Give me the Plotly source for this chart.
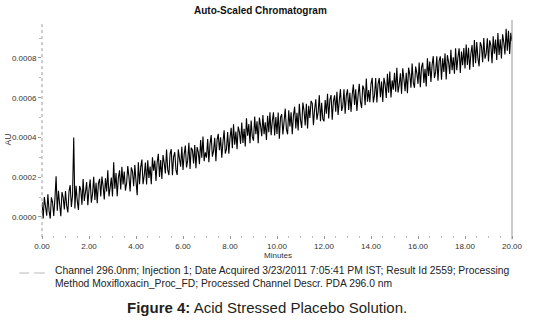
import plotly.graph_objects as go

absorbance_uAU = [
    75, -7, 100, 53, 6, 114, 32, -8, 99, 73,
    5, 91, 205, 32, 132, 65, 4, 125, 99, 38,
    131, 56, 23, 130, 160, 51, 109, 400, 43, 157,
    82, 35, 156, 137, 62, 191, 81, 125, 176, 59,
    138, 189, 72, 116, 202, 86, 172, 69, 169, 192,
    103, 203, 156, 88, 195, 128, 235, 104, 148, 199,
    103, 275, 142, 221, 104, 198, 235, 139, 253, 164,
    229, 133, 170, 256, 202, 128, 249, 230, 155, 262,
    180, 110, 275, 165, 251, 289, 165, 209, 274, 164,
    285, 196, 254, 165, 300, 233, 284, 181, 274, 318,
    201, 287, 191, 312, 272, 219, 340, 237, 211, 318,
    341, 210, 303, 326, 237, 212, 340, 293, 253, 353,
    236, 315, 359, 249, 286, 373, 242, 349, 337, 269,
    362, 245, 352, 326, 265, 387, 298, 405, 281, 325,
    299, 392, 275, 368, 412, 303, 333, 398, 281, 388,
    418, 336, 401, 298, 377, 436, 319, 342, 428, 318,
    398, 449, 346, 467, 364, 430, 341, 455, 429, 368,
    475, 372, 444, 355, 497, 409, 467, 371, 485, 403,
    384, 505, 416, 481, 371, 500, 460, 406, 513, 417,
    477, 388, 509, 427, 527, 411, 483, 527, 410, 503,
    418, 525, 394, 501, 517, 415, 480, 545, 442, 416,
    537, 455, 527, 417, 510, 555, 445, 524, 435, 570,
    488, 448, 576, 536, 461, 569, 445, 559, 498, 584,
    572, 462, 541, 592, 489, 527, 613, 482, 575, 493,
    481, 588, 520, 620, 496, 590, 613, 489, 582, 612,
    530, 630, 513, 585, 643, 534, 557, 643, 519, 612,
    642, 539, 625, 529, 615, 667, 564, 643, 533, 612,
    670, 581, 548, 662, 643, 562, 697, 580, 638, 577,
    670, 700, 576, 613, 699, 576, 669, 699, 603, 682,
    579, 700, 667, 599, 720, 625, 732, 601, 687, 640,
    726, 630, 751, 627, 664, 723, 620, 748, 694, 633,
    726, 623, 751, 718, 650, 772, 676, 650, 757, 724,
    670, 777, 653, 753, 776, 674, 746, 657, 799, 710,
    782, 679, 765, 809, 699, 730, 809, 685, 785, 808,
    691, 798, 730, 823, 692, 814, 781, 720, 841, 738,
    803, 721, 849, 739, 804, 849, 725, 832, 764, 850,
    747, 868, 765, 851, 741, 821, 865, 755, 890, 773,
    880, 798, 758, 879, 860, 779, 900, 797, 820, 899,
    782, 889, 863, 774, 909, 821, 893, 790, 925, 815,
    894, 798, 919, 879, 818, 947, 837, 937, 820, 927,
    885,
]
sample_step_min = 0.05
minutes = [i * sample_step_min for i in range(len(absorbance_uAU))]
absorbance_AU = [v * 1e-6 for v in absorbance_uAU]

x_ticks = [0, 2, 4, 6, 8, 10, 12, 14, 16, 18, 20]
x_tick_labels = ["0.00", "2.00", "4.00", "6.00", "8.00", "10.00",
                 "12.00", "14.00", "16.00", "18.00", "20.00"]
y_ticks = [0.0, 0.0002, 0.0004, 0.0006, 0.0008]
y_tick_labels = ["0.0000", "0.0002", "0.0004", "0.0006", "0.0008"]

title_text = "Auto-Scaled Chromatogram"
x_title = "Minutes"
y_title = "AU"
footer_1 = ("Channel 296.0nm; Injection 1; Date Acquired 3/23/2011 7:05:41 PM IST; "
            "Result Id 2559; Processing")
footer_2 = "Method Moxifloxacin_Proc_FD; Processed Channel Descr. PDA 296.0 nm"
caption_bold = "Figure 4:"
caption_rest = " Acid Stressed Placebo Solution."

W, H = 535, 326
ML, MR, MT, MB = 40, 18, 22, 91
PW, PH = W - ML - MR, H - MT - MB


def px(xp):
    return (xp - ML) / PW


def py(yp):
    return (H - MB - yp) / PH


fig = go.Figure()
fig.add_trace(go.Scatter(
    x=minutes, y=absorbance_AU, mode="lines",
    line=dict(color="#000000", width=1.1, simplify=False),
    hoverinfo="skip", showlegend=False,
))

axis_font = dict(family="Arial, Liberation Sans, sans-serif", size=8, color="#333333")

fig.update_layout(
    width=W, height=H,
    margin=dict(l=ML, r=MR, t=MT, b=MB),
    paper_bgcolor="white", plot_bgcolor="white",
    xaxis=dict(
        range=[0, 20], showgrid=False, zeroline=False, showline=False,
        tickmode="array", tickvals=x_ticks, ticktext=x_tick_labels,
        ticks="outside", ticklen=3, tickcolor="#999999", tickwidth=1,
        minor=dict(dtick=0.5, ticks="outside", ticklen=2, tickcolor="#bbbbbb"),
        tickfont=axis_font,
    ),
    yaxis=dict(
        range=[-0.0000906, 0.000981], showgrid=False, zeroline=False, showline=False,
        tickmode="array", tickvals=y_ticks, ticktext=y_tick_labels,
        ticks="outside", ticklen=3, tickcolor="#999999", tickwidth=1,
        minor=dict(dtick=0.0001, ticks="outside", ticklen=2, tickcolor="#bbbbbb"),
        tickfont=axis_font,
    ),
    shapes=[
        dict(type="line", xref="paper", yref="paper", x0=0, x1=0, y0=-0.01, y1=1,
             line=dict(color="#999999", width=1, dash="dot")),
        dict(type="line", xref="paper", yref="paper", x0=1, x1=1, y0=-0.02, y1=1.01,
             line=dict(color="#999999", width=1)),
        dict(type="line", xref="paper", yref="paper", x0=px(17), x1=px(27),
             y0=py(273), y1=py(273), line=dict(color="#bbbbbb", width=1)),
        dict(type="line", xref="paper", yref="paper", x0=px(32), x1=px(43),
             y0=py(273), y1=py(273), line=dict(color="#bbbbbb", width=1)),
    ],
)

ann_font = "Arial, Liberation Sans, sans-serif"
fig.add_annotation(text="<b>" + title_text + "</b>", xref="paper", yref="paper",
                   x=px(262), y=py(11), showarrow=False, xanchor="center", yanchor="middle",
                   font=dict(family=ann_font, size=10, color="#111111"))
fig.add_annotation(text=x_title, xref="paper", yref="paper",
                   x=px(280), y=py(255), showarrow=False, xanchor="center", yanchor="middle",
                   font=dict(family=ann_font, size=8, color="#333333"))
fig.add_annotation(text=y_title, xref="paper", yref="paper", textangle=-90,
                   x=px(5), y=py(140), showarrow=False, xanchor="center", yanchor="middle",
                   font=dict(family=ann_font, size=8.5, color="#333333"))
fig.add_annotation(text=footer_1, xref="paper", yref="paper",
                   x=px(51), y=py(270), showarrow=False, xanchor="left", yanchor="middle",
                   font=dict(family=ann_font, size=10.3, color="#222222"))
fig.add_annotation(text=footer_2, xref="paper", yref="paper",
                   x=px(51), y=py(283), showarrow=False, xanchor="left", yanchor="middle",
                   font=dict(family=ann_font, size=10.3, color="#222222"))
fig.add_annotation(text="<b>" + caption_bold + "</b>" + caption_rest, xref="paper", yref="paper",
                   x=px(268), y=py(307), showarrow=False, xanchor="center", yanchor="middle",
                   font=dict(family=ann_font, size=15, color="#231f20"))

fig.write_html("out.html")
